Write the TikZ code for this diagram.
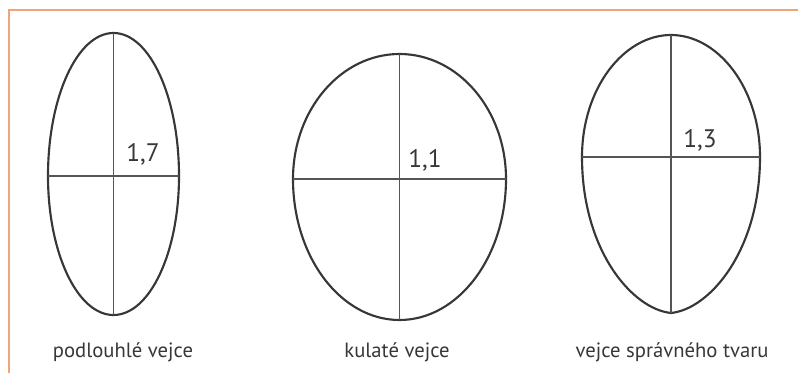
\documentclass[tikz,border=0pt]{standalone}
\usepackage{fontspec}
\setmainfont{PT Sans}
\usepackage{tikz}
\definecolor{framecol}{RGB}{240,165,120}
\definecolor{inkcol}{RGB}{55,55,55}

\begin{document}
\begin{tikzpicture}[x=0.75pt,y=-0.75pt,
    shell/.style={draw=inkcol,line width=1.6pt},
    axis/.style={draw=inkcol!85,line width=0.8pt},
    ratio/.style={text=inkcol,font=\fontsize{19}{21}\selectfont},
    caption/.style={text=inkcol,font=\fontsize{15.5}{17}\selectfont}]
  \useasboundingbox (0,0) rectangle (798,373);
  \draw[framecol,line width=1.8pt] (9,373) -- (9,10) -- (798,10);

  % podlouhle vejce
  \draw[shell] (48,176) arc (180:360:65.5 and 143) arc (0:180:65.5 and 139) -- cycle;
  \draw[axis] (113.5,33) -- (113.5,315); \draw[axis] (48,176) -- (179,176);
  \node[ratio] (r1) at (143,154) {1,7};
  \node[caption] (c1) at (123,352) {podlouhlé vejce};

  % kulate vejce
  \draw[shell] (293,179) arc (180:360:106.5 and 125) arc (0:180:106.5 and 141) -- cycle;
  \draw[axis] (399.5,54) -- (399.5,320); \draw[axis] (293,179) -- (506,179);
  \node[ratio] (r2) at (425,160) {1,1};
  \node[caption] (c2) at (397,352) {kulaté vejce};

  % vejce spravneho tvaru
  \draw[shell] (671,35) .. controls (718,35) and (760,88) .. (760,157)
               .. controls (760,250) and (710,309) .. (671,313)
               .. controls (632,309) and (582,250) .. (582,157)
               .. controls (582,88) and (624,35) .. (671,35) -- cycle;
  \draw[axis] (671,35) -- (671,313); \draw[axis] (582,157) -- (760,157);
  \node[ratio] (r3) at (700,140) {1,3};
  \node[caption] (c3) at (672,352) {vejce správného tvaru};
\end{tikzpicture}
\end{document}
